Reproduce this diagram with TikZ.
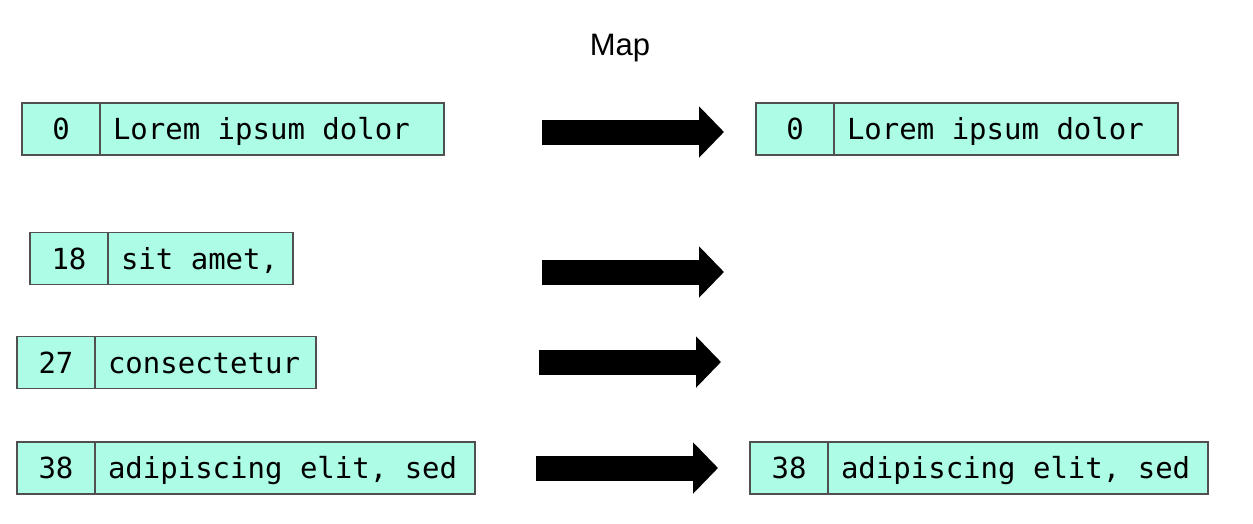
\documentclass[tikz,border=0pt]{standalone}
\usepackage{fontspec}
\setmainfont{Liberation Sans}
\newfontfamily\recfont{DejaVu Sans Mono}
\newcommand\recsize{\recfont\fontsize{29}{34}\selectfont}
\newcommand\gap{\kern0.602em}
\usetikzlibrary{positioning,arrows.meta}
\definecolor{recFill}{RGB}{172,252,230}
\definecolor{recLine}{RGB}{80,80,80}

\begin{document}
\begin{tikzpicture}[
    x=1pt, y=-1pt,
    numcell/.style={rectangle, draw=recLine, line width=1.3pt, fill=recFill, minimum width=78pt, minimum height=52pt, inner sep=0pt, outer sep=0pt, text height=23pt, text depth=2pt, font=\recsize},
    txtcell/.style={rectangle, draw=recLine, line width=1.3pt, fill=recFill, minimum height=52pt, inner xsep=13pt, inner ysep=0pt, outer sep=0pt, text height=23pt, text depth=2pt, align=left, font=\recsize},
    bigarrow/.style={line width=25pt, -{Triangle[length=25pt, width=50pt]}}
]
\useasboundingbox (0,0) rectangle (1253,523);
\node[font=\fontsize{31}{36}\selectfont] (title) at (620,48) {Map};
% input records
\node[numcell, anchor=west] (n0) at (22,129) {0};
\node[txtcell, text width=318pt, right=0pt of n0] (t0) {Lorem\gap ipsum\gap dolor};
\node[numcell, anchor=west] (n18) at (30,258.5) {18};
\node[txtcell, text width=159pt, right=0pt of n18] (t18) {sit\gap amet,};
\node[numcell, anchor=west] (n27) at (17,362.5) {27};
\node[txtcell, text width=195pt, right=0pt of n27] (t27) {consectetur};
\node[numcell, anchor=west] (n38) at (17,468) {38};
\node[txtcell, text width=354pt, right=0pt of n38] (t38) {adipiscing\gap elit,\gap sed};
% output records
\node[numcell, anchor=west] (m0) at (756,129) {0};
\node[txtcell, text width=318pt, right=0pt of m0] (u0) {Lorem\gap ipsum\gap dolor};
\node[numcell, anchor=west] (m38) at (750,468) {38};
\node[txtcell, text width=354pt, right=0pt of m38] (u38) {adipiscing\gap elit,\gap sed};
% map arrows
\coordinate (a0s) at (542,132);
\coordinate (a0e) at (724,132);
\coordinate (a18s) at (542,272);
\coordinate (a18e) at (724,272);
\coordinate (a27s) at (539,362);
\coordinate (a27e) at (721,362);
\coordinate (a38s) at (536,468);
\coordinate (a38e) at (718,468);
\draw[bigarrow] (a0s) -- (a0e);
\draw[bigarrow] (a18s) -- (a18e);
\draw[bigarrow] (a27s) -- (a27e);
\draw[bigarrow] (a38s) -- (a38e);
\end{tikzpicture}
\end{document}
